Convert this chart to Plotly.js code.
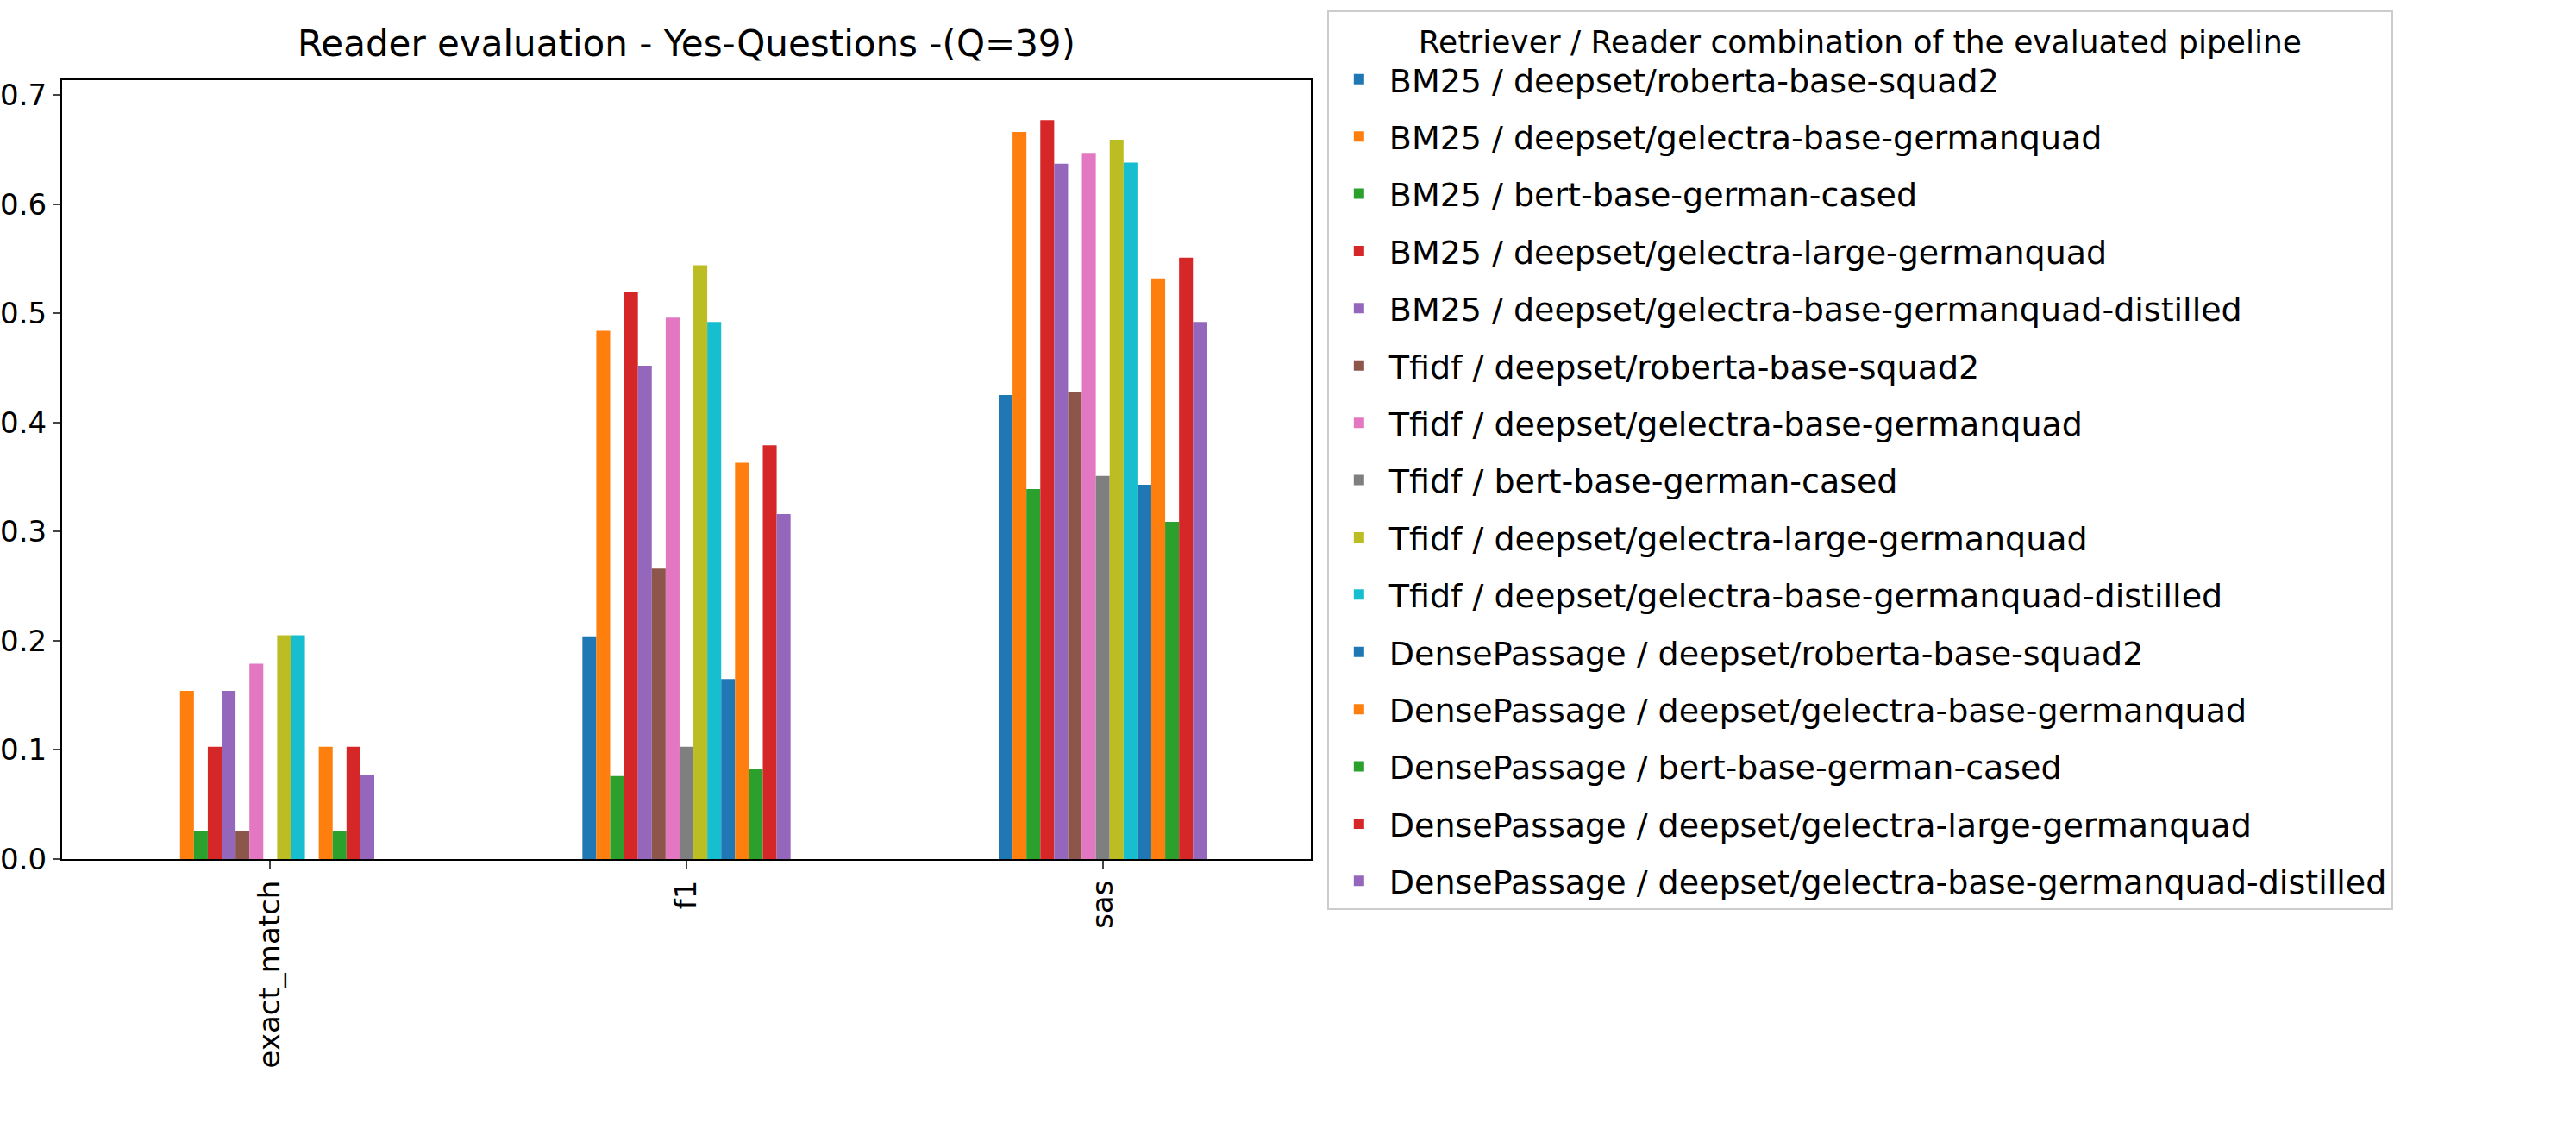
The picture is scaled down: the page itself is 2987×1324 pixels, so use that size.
<!DOCTYPE html>
<html>
<head>
<meta charset="utf-8">
<script src="https://cdn.plot.ly/plotly-3.0.1.min.js"></script>
<style>body{margin:0;background:#fff}</style>
</head>
<body>
<div id="chart" style="width:2987px;height:1324px"></div>
<script>
const metrics = ["exact_match", "f1", "sas"];

const pipelines = [
  "BM25 / deepset/roberta-base-squad2",
  "BM25 / deepset/gelectra-base-germanquad",
  "BM25 / bert-base-german-cased",
  "BM25 / deepset/gelectra-large-germanquad",
  "BM25 / deepset/gelectra-base-germanquad-distilled",
  "Tfidf / deepset/roberta-base-squad2",
  "Tfidf / deepset/gelectra-base-germanquad",
  "Tfidf / bert-base-german-cased",
  "Tfidf / deepset/gelectra-large-germanquad",
  "Tfidf / deepset/gelectra-base-germanquad-distilled",
  "DensePassage / deepset/roberta-base-squad2",
  "DensePassage / deepset/gelectra-base-germanquad",
  "DensePassage / bert-base-german-cased",
  "DensePassage / deepset/gelectra-large-germanquad",
  "DensePassage / deepset/gelectra-base-germanquad-distilled"
];

const exactMatch = [0, 0.154, 0.026, 0.103, 0.154, 0.026, 0.179, 0, 0.205, 0.205, 0, 0.103, 0.026, 0.103, 0.077];
const f1 = [0.204, 0.484, 0.076, 0.520, 0.452, 0.266, 0.496, 0.103, 0.544, 0.492, 0.165, 0.363, 0.083, 0.379, 0.316];
const sas = [0.425, 0.666, 0.339, 0.677, 0.637, 0.428, 0.647, 0.351, 0.659, 0.638, 0.343, 0.532, 0.309, 0.551, 0.492];

const palette = ["#1f77b4", "#ff7f0e", "#2ca02c", "#d62728", "#9467bd",
  "#8c564b", "#e377c2", "#7f7f7f", "#bcbd22", "#17becf"];

// one legend group per trace so tracegroupgap spaces the rows
const data = pipelines.map((name, i) => ({
  type: "bar",
  name: name,
  legendgroup: "g" + i,
  x: metrics,
  y: [exactMatch[i], f1[i], sas[i]],
  marker: { color: palette[i % palette.length], line: { width: 0 } },
}));

const layout = {
  width: 2987,
  height: 1324,
  font: { family: "DejaVu Sans", size: 34, color: "#000" },
  paper_bgcolor: "#fff",
  plot_bgcolor: "#fff",
  margin: { l: 72, r: 1467, t: 90, b: 328 },
  barmode: "group",
  bargap: 0.5,
  bargroupgap: 0,
  title: { text: "Reader evaluation - Yes-Questions -(Q=39)", x: 0.5, xref: "paper",
    y: 1 - 50 / 1324, yanchor: "middle", font: { size: 42 } },
  xaxis: {
    range: [-0.5, 2.5], tickangle: -90, showline: true, mirror: true,
    linecolor: "#000", linewidth: 2, ticks: "outside", ticklen: 9, tickwidth: 2,
    showgrid: false, zeroline: false,
  },
  yaxis: {
    range: [0, 0.7135], dtick: 0.1, tickformat: ".1f", showline: true, mirror: true,
    linecolor: "#000", linewidth: 2, ticks: "outside", ticklen: 9, tickwidth: 2,
    showgrid: false, zeroline: false,
  },
  showlegend: true,
  legend: {
    x: 1.013, xanchor: "left", y: 1.09, yanchor: "top",
    bordercolor: "#ccc", borderwidth: 2,
    maxheight: 1,
    font: { size: 38 },
    title: { text: "Retriever / Reader combination of the evaluated pipeline", side: "top center", font: { size: 36 } },
    tracegroupgap: 14,
    itemwidth: 60,
  },
};

Plotly.newPlot("chart", data, layout, { displayModeBar: false });
</script>
</body>
</html>
